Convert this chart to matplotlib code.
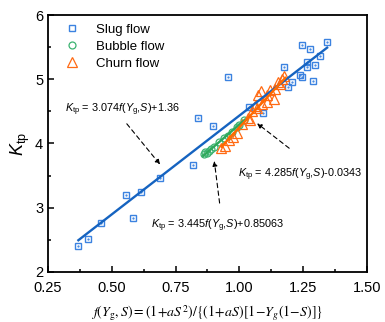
import matplotlib
matplotlib.use('Agg')
import matplotlib.pyplot as plt
from matplotlib.ticker import MultipleLocator

plt.rcParams['font.family'] = ['Liberation Sans', 'DejaVu Sans']
plt.rcParams['mathtext.fontset'] = 'custom'
plt.rcParams['mathtext.rm'] = 'Liberation Sans'
plt.rcParams['mathtext.it'] = 'Liberation Sans:italic'

# slug flow
slug_x = [0.369, 0.407, 0.458, 0.556, 0.584, 0.613, 0.690, 0.818, 0.837, 0.898,
          0.957, 1.039, 1.091, 1.176, 1.191, 1.207, 1.236, 1.246, 1.265, 1.267,
          1.289, 1.298, 1.317, 1.278, 1.246, 1.344]
slug_y = [2.405, 2.509, 2.763, 3.198, 2.836, 3.250, 3.468, 3.665, 4.392, 4.277,
          5.040, 4.573, 4.470, 5.186, 4.875, 4.953, 5.070, 5.030, 5.264, 5.186,
          4.978, 5.222, 5.367, 5.466, 5.533, 5.585]

# bubble flow
bub_x = [0.860, 0.865, 0.872, 0.880, 0.890, 0.900, 0.920, 0.940, 0.955, 0.970,
         0.990, 1.000, 1.020]
bub_y = [3.83, 3.87, 3.85, 3.88, 3.91, 3.95, 4.02, 4.09, 4.12, 4.18,
         4.26, 4.29, 4.37]

# churn flow
churn_x = [0.930, 0.944, 0.960, 0.975, 0.990, 1.010, 1.035, 1.040, 1.050, 1.060,
           1.070, 1.074, 1.085, 1.090, 1.107, 1.107, 1.120, 1.137, 1.140, 1.152,
           1.160, 1.168, 1.175]
churn_y = [3.93, 3.96, 4.05, 4.10, 4.16, 4.30, 4.39, 4.37, 4.50, 4.58,
           4.55, 4.75, 4.81, 4.62, 4.65, 4.75, 4.83, 4.70, 4.85, 4.96,
           4.92, 5.01, 5.05]

# fits (slope, intercept, x range)
slug_fit = (3.074, 1.36, 0.369, 1.344)
bub_fit = (3.445, 0.85063, 0.858, 1.022)
churn_fit = (4.285, -0.0343, 0.930, 1.180)

c_slug, c_slug_line = '#3b82e0', '#1563c0'
c_bub, c_bub_line = '#3cb371', '#2ea85a'
c_churn, c_churn_line = '#ff6a13', '#ff6a00'

fig = plt.figure(figsize=(3.85, 3.22), dpi=100)
ax = fig.add_axes([0.1247, 0.1553, 0.8283, 0.7981])

ax.plot(slug_x, slug_y, 's', ms=4.2, mfc='none', mec=c_slug, mew=1.0, label='Slug flow')
ax.plot(slug_x, slug_y, '.', ms=1.2, color=c_slug)
ax.plot(bub_x, bub_y, 'o', ms=5, mfc='none', mec=c_bub, mew=0.9, label='Bubble flow')
ax.plot(churn_x, churn_y, '^', ms=6.5, mfc='none', mec=c_churn, mew=0.9, label='Churn flow')

for (k, b, x0, x1), c in [(slug_fit, c_slug_line), (bub_fit, c_bub_line), (churn_fit, c_churn_line)]:
    ax.plot([x0, x1], [k * x0 + b, k * x1 + b], '-', color=c, lw=1.7)

ax.set_xlim(0.25, 1.5)
ax.set_ylim(2, 6)
ax.xaxis.set_major_locator(MultipleLocator(0.25))
ax.xaxis.set_minor_locator(MultipleLocator(0.125))
ax.yaxis.set_major_locator(MultipleLocator(1))
ax.yaxis.set_minor_locator(MultipleLocator(0.5))
ax.xaxis.set_major_formatter(matplotlib.ticker.FormatStrFormatter('%.2f'))
ax.tick_params(which='both', direction='in', top=False, right=False, labelsize=10.5, width=1.1)
ax.tick_params(which='major', length=4.5)
ax.tick_params(which='minor', length=2.5)
ax.tick_params(axis='x', pad=6.5)
for s in ax.spines.values():
    s.set_linewidth(1.3)

ax.set_ylabel(r'$K_{\rm tp}$', fontsize=13, labelpad=2)
ax.set_xlabel(r'$f(Y_{\mathrm{g}},S)=(1\!+\!aS^2)/\{(1\!+\!aS)[1\!-\!Y_g(1\!-\!S)]\}$',
              fontsize=10, labelpad=6, math_fontfamily='stix')

leg = ax.legend(loc='upper left', frameon=False, fontsize=9.5, handletextpad=1.2,
                borderaxespad=0.25, labelspacing=0.35, handlelength=1.2,
                bbox_to_anchor=(0.025, 1.0))

afs = 7.8
arrow = dict(arrowstyle='-|>', linestyle=(0, (4, 3)), color='black', lw=0.8,
             mutation_scale=7)
ax.annotate('', xy=(0.696, 3.64), xytext=(0.552, 4.34), arrowprops=arrow)
ax.text(0.317, 4.48, r'$K_{\rm tp}$ = 3.074$f$($Y_{\rm g}$,$S$)+1.36', fontsize=afs)
ax.annotate('', xy=(1.061, 4.34), xytext=(1.204, 3.90), arrowprops=arrow)
ax.text(0.995, 3.48, r'$K_{\rm tp}$ = 4.285$f$($Y_{\rm g}$,$S$)-0.0343', fontsize=afs)
ax.annotate('', xy=(0.9005, 3.77), xytext=(0.924, 3.03), arrowprops=arrow)
ax.text(0.652, 2.68, r'$K_{\rm tp}$ = 3.445$f$($Y_{\rm g}$,$S$)+0.85063', fontsize=afs)

fig.savefig('out.png', dpi=100)
